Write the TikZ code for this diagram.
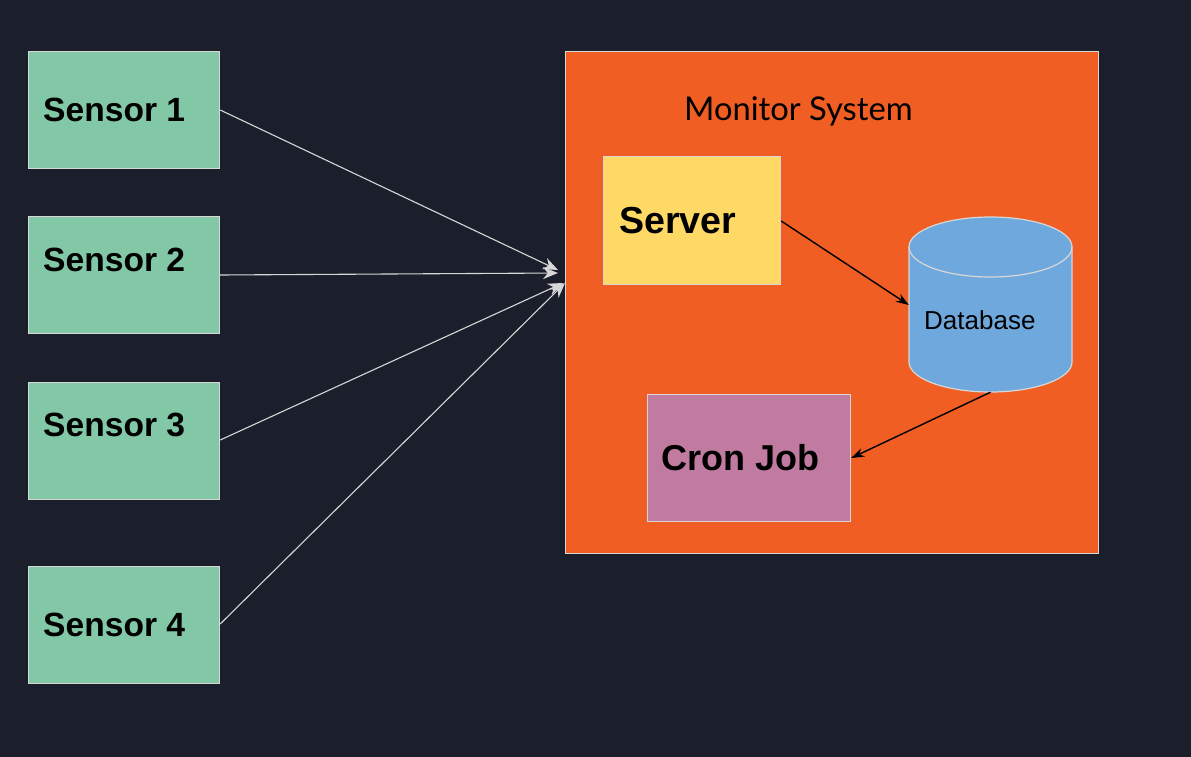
\documentclass[tikz,border=0pt]{standalone}
\usepackage{fontspec}
\setmainfont{Liberation Sans}
\newfontfamily\latofont{Lato}
\usetikzlibrary{arrows.meta}
\definecolor{bgdark}{RGB}{27,31,43}
\definecolor{sensorgreen}{RGB}{130,200,166}
\definecolor{sysorange}{RGB}{240,94,35}
\definecolor{serveryellow}{RGB}{255,217,102}
\definecolor{dbblue}{RGB}{111,168,220}
\definecolor{cronpink}{RGB}{194,123,160}
\definecolor{edgegray}{RGB}{215,215,215}
\tikzset{
  box/.style={draw=edgegray, line width=1.2pt, anchor=north west, inner sep=0pt},
  sensorbox/.style={box, fill=sensorgreen, minimum width=191pt, minimum height=117pt},
  boldlabel/.style={anchor=west, inner sep=0pt, font=\bfseries\fontsize{33.6}{40}\selectfont},
  feed/.style={draw=edgegray, line width=1.1pt, -{Stealth[length=15pt,width=12pt]}},
  flow/.style={draw=black, line width=1.4pt, -{Stealth[length=13pt,width=9pt]}}
}
\begin{document}
\begin{tikzpicture}[x=1pt,y=-1pt]
  \fill[bgdark] (0,0) rectangle (1191,757);
  \useasboundingbox (0,0) rectangle (1191,757);

  % sensors
  \node[sensorbox] (s1) at (28,51) {};
  \node[sensorbox] (s2) at (28,216) {};
  \node[sensorbox] (s3) at (28,382) {};
  \node[sensorbox] (s4) at (28,566) {};
  \node[boldlabel] (s1t) at (43,110) {Sensor 1};
  \node[boldlabel] (s2t) at (43,260) {Sensor 2};
  \node[boldlabel] (s3t) at (43,425) {Sensor 3};
  \node[boldlabel] (s4t) at (43,625) {Sensor 4};

  % monitor system container
  \node[box, fill=sysorange, minimum width=533pt, minimum height=502pt] (sys) at (565,51) {};
  \node[anchor=west, inner sep=0pt, font=\latofont\fontsize{32.7}{39}\selectfont] (syst) at (684,111) {Monitor System};

  % server
  \node[box, fill=serveryellow, minimum width=177pt, minimum height=128pt] (srv) at (603,156) {};
  \node[boldlabel, font=\bfseries\fontsize{37.6}{44}\selectfont] (srvt) at (619,221) {Server};

  % database: an invisible frame node, with the cylinder drawn on it
  \node[inner sep=0pt, minimum width=163pt, minimum height=175pt] (db) at (990.5,304.5) {};
  \fill[dbblue, draw=edgegray, line width=1.2pt]
    (909,247) -- (909,362) arc[start angle=180, end angle=0, x radius=81.5, y radius=30]
    -- (1072,247) arc[start angle=0, end angle=-180, x radius=81.5, y radius=30] -- cycle;
  \draw[edgegray, line width=1.2pt]
    (909,247) arc[start angle=180, end angle=0, x radius=81.5, y radius=30];
  \node[anchor=west, inner sep=0pt, font=\fontsize{26}{31}\selectfont] (dbt) at (924,320) {Database};

  % cron job
  \node[box, fill=cronpink, minimum width=203pt, minimum height=127pt] (cron) at (647,394) {};
  \node[boldlabel, font=\bfseries\fontsize{36}{42}\selectfont] (cront) at (661,458) {Cron Job};

  % connectors
  \coordinate (in1) at (558,270);
  \coordinate (in2) at (558,273);
  \coordinate (in3) at (563,283);
  \coordinate (in4) at (565,283);
  \draw[feed] (s1.east |- 0,110) -- (in1);
  \draw[feed] (s2.east |- 0,275) -- (in2);
  \draw[feed] (s3.east |- 0,440) -- (in3);
  \draw[feed] (s4.east |- 0,624) -- (in4);
  \draw[flow] (srv.east |- 0,221) -- (db.west |- 0,305);
  \draw[flow] (db.south) -- (cron.east |- 0,458);
\end{tikzpicture}
\end{document}
